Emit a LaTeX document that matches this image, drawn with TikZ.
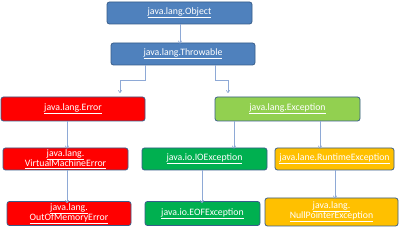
\documentclass[tikz,border=0pt]{standalone}
\usepackage{fontspec}
\setmainfont{Carlito}
\usetikzlibrary{arrows.meta}
\definecolor{bluefill}{HTML}{4F81BD}
\definecolor{edge}{HTML}{385D8A}
\definecolor{redfill}{HTML}{FF0000}
\definecolor{lgreen}{HTML}{92D050}
\definecolor{dgreen}{HTML}{00B050}
\definecolor{orangefill}{HTML}{FFC000}
\definecolor{arrowc}{HTML}{8EA9D6}
\tikzset{
  box/.style={draw=edge, line width=0.8pt, rounded corners=2.5pt, text=white,
    font=\fontsize{9.8}{11}\selectfont, align=center, inner sep=0pt},
  conn/.style={draw=arrowc, line width=0.6pt, -{To[length=3pt,width=4pt]}},
}
\newcommand{\ul}[1]{\underline{#1}}
\begin{document}
\begin{tikzpicture}[x=1pt,y=-1pt]
\useasboundingbox[fill=white] (0,0) rectangle (400,229);
\node[box, fill=bluefill, minimum width=145pt, minimum height=22pt] (obj) at (179.5,13) {\ul{java.lang.Object}};
\node[box, fill=bluefill, minimum width=144pt, minimum height=22pt] (thr) at (183,54) {\ul{java.lang.Throwable}};
\node[box, fill=redfill, minimum width=144pt, minimum height=24pt] (err) at (73,109) {\ul{java.lang.Error}};
\node[box, fill=lgreen, minimum width=145pt, minimum height=24pt] (exc) at (287.5,109) {\ul{java.lang.Exception}};
\node[box, fill=redfill, minimum width=125pt, minimum height=22pt] (vme) at (65.5,159) {\ul{java.lang.}\\[-1pt]\ul{VirtualMachineError}};
\node[box, fill=dgreen, minimum width=125pt, minimum height=22pt] (ioe) at (204.5,159) {\ul{java.io.IOException}};
\node[box, fill=orangefill, minimum width=119pt, minimum height=22pt] (rte) at (334.5,159) {\ul{java.lane.RuntimeException}};
\node[box, fill=redfill, minimum width=124pt, minimum height=24pt] (oom) at (69,213.5) {\ul{java.lang.}\\[-1pt]\ul{OutOfMemoryError}};
\node[box, fill=dgreen, minimum width=115pt, minimum height=24pt] (eof) at (202.5,213.5) {\ul{java.io.EOFException}};
\node[box, fill=orangefill, minimum width=133pt, minimum height=28pt] (npe) at (331.5,212) {\ul{java.lang.}\\[-1pt]\ul{NullPointerException}};

\draw[conn] (obj.south -| 180,0) -- ([yshift=-1pt]thr.north -| 180,0);
\draw[conn] (thr.south -| 145,0) |- (120,80) -- (120,93);
\draw[conn] (thr.south -| 215,0) |- (228,80) -- (228,93);
\draw[conn] (err.south -| 67,0) -- ([yshift=-1pt]vme.north -| 67,0);
\draw[conn] (exc.south -| 234,0) -- ([yshift=-1pt]ioe.north -| 234,0);
\draw[conn] (exc.south -| 320,0) -- ([yshift=-1pt]rte.north -| 320,0);
\draw[conn] (vme.south -| 67,0) -- ([yshift=-2pt]oom.north -| 67,0);
\draw[conn] (ioe.south -| 202,0) -- ([yshift=-2pt]eof.north -| 202,0);
\draw[conn] (rte.south -| 335,0) -- ([yshift=-1pt]npe.north -| 335,0);
\end{tikzpicture}
\end{document}
